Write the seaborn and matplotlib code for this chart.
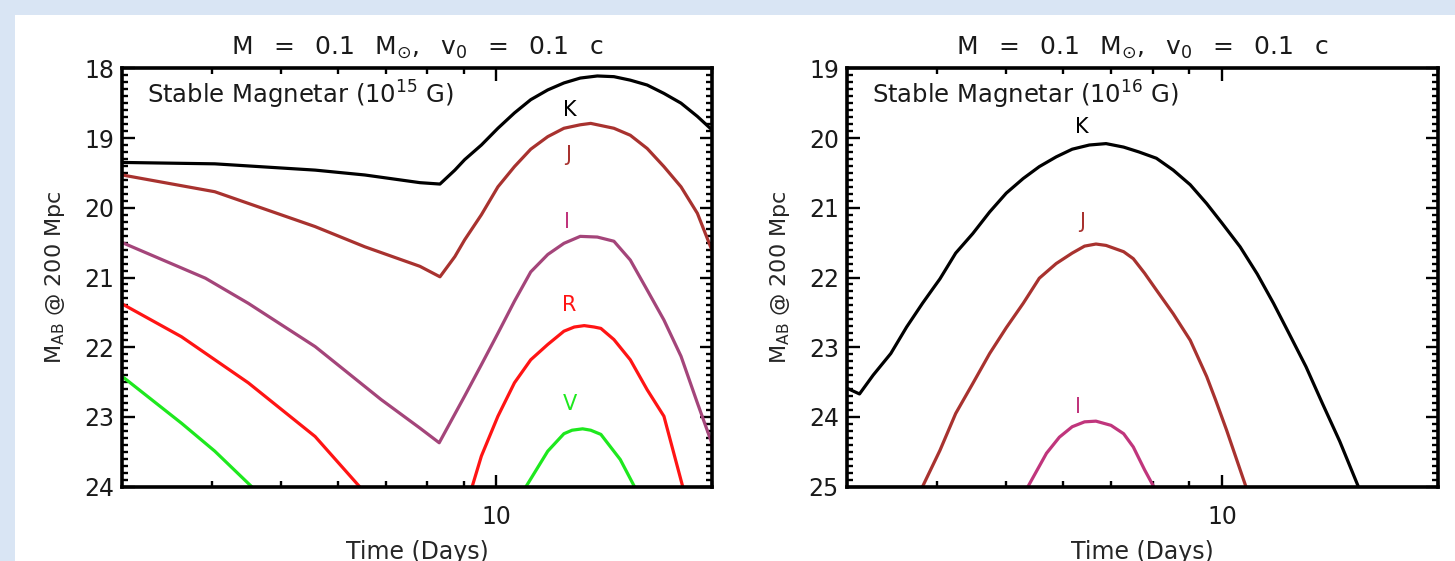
import matplotlib
matplotlib.use('Agg')
import matplotlib.pyplot as plt
import pandas as pd
import seaborn as sns
from matplotlib.ticker import FixedLocator, FixedFormatter, NullFormatter, MultipleLocator
from matplotlib.patches import Rectangle

# ---------------- data ----------------
# Left panel: Stable Magnetar (10^15 G)
k15_t = [3.0, 4.04, 5.58, 6.55, 7.82, 8.34, 8.75, 9.03, 9.53, 10.05, 10.6, 11.17, 11.8,
         12.43, 13.1, 13.84, 14.6, 15.39, 16.25, 17.15, 18.12, 19.1, 20.0]
k15_m = [19.35, 19.37, 19.46, 19.53, 19.64, 19.66, 19.46, 19.31, 19.10, 18.86, 18.64, 18.45, 18.31,
         18.21, 18.14, 18.11, 18.12, 18.17, 18.24, 18.36, 18.50, 18.69, 18.88]

j15_t = [3.0, 4.04, 5.58, 6.55, 7.82, 8.34, 8.75, 9.03, 9.53, 10.05, 10.6, 11.17, 11.8,
         12.43, 13.1, 13.55, 14.6, 15.39, 16.25, 17.15, 18.12, 19.1, 20.0]
j15_m = [19.53, 19.77, 20.27, 20.56, 20.84, 20.99, 20.70, 20.46, 20.10, 19.70, 19.41, 19.16, 18.98,
         18.86, 18.81, 18.79, 18.86, 18.96, 19.15, 19.41, 19.70, 20.08, 20.60]

i15_t = [3.0, 3.92, 4.50, 5.58, 6.90, 7.82, 8.32, 9.03, 9.53, 10.05, 10.6, 11.17, 11.8,
         12.43, 13.1, 13.84, 14.6, 15.39, 16.25, 17.15, 18.12, 19.1, 20.0]
i15_m = [20.50, 21.01, 21.37, 21.99, 22.75, 23.16, 23.37, 22.70, 22.25, 21.80, 21.34, 20.92, 20.67,
         20.51, 20.41, 20.42, 20.48, 20.75, 21.18, 21.61, 22.13, 22.80, 23.37]

r15a_t = [3.0, 3.63, 4.50, 5.58, 6.44]
r15a_m = [21.38, 21.85, 22.51, 23.28, 24.0]
r15b_t = [9.25, 9.53, 10.05, 10.6, 11.17, 11.8, 12.43, 12.85, 13.27, 13.7, 14.0, 14.6, 15.39,
          16.25, 17.15, 18.22]
r15b_m = [24.0, 23.56, 22.99, 22.51, 22.18, 21.96, 21.77, 21.71, 21.69, 21.71, 21.73, 21.89, 22.18,
          22.61, 22.99, 24.0]

v15a_t = [3.0, 3.63, 4.04, 4.55]
v15a_m = [22.42, 23.09, 23.49, 24.0]
v15b_t = [11.0, 11.8, 12.43, 12.76, 13.2, 13.55, 14.0, 14.9, 15.6]
v15b_m = [24.0, 23.49, 23.24, 23.19, 23.17, 23.19, 23.25, 23.61, 24.0]

# Right panel: Stable Magnetar (10^16 G)
k16_t = [3.0, 3.12, 3.26, 3.45, 3.63, 3.82, 3.95, 4.04, 4.25, 4.49, 4.74, 5.00, 5.28, 5.56,
         5.87, 6.18, 6.53, 6.89, 7.29, 7.66, 8.10, 8.55, 9.03, 9.52, 10.0, 10.6, 11.2, 11.8,
         12.4, 13.1, 13.8, 14.6, 15.5]
k16_m = [23.59, 23.67, 23.40, 23.09, 22.71, 22.37, 22.16, 22.02, 21.65, 21.37, 21.06, 20.79, 20.58,
         20.41, 20.27, 20.16, 20.10, 20.08, 20.13, 20.20, 20.29, 20.46, 20.67, 20.94, 21.22, 21.56,
         21.95, 22.37, 22.80, 23.28, 23.80, 24.35, 25.0]

j16_t = [3.82, 4.04, 4.25, 4.49, 4.74, 5.0, 5.28, 5.56, 5.87, 6.18, 6.43, 6.67, 6.89, 7.29,
         7.52, 7.80, 8.10, 8.55, 9.03, 9.52, 9.80, 10.15, 10.8]
j16_m = [25.0, 24.48, 23.95, 23.52, 23.09, 22.72, 22.37, 22.01, 21.80, 21.65, 21.55, 21.52, 21.54,
         21.63, 21.73, 21.94, 22.18, 22.52, 22.90, 23.42, 23.76, 24.19, 25.0]

i16_t = [5.36, 5.69, 5.93, 6.18, 6.43, 6.67, 7.0, 7.29, 7.52, 7.80, 8.03]
i16_m = [25.0, 24.52, 24.29, 24.14, 24.07, 24.06, 24.12, 24.24, 24.43, 24.76, 25.0]

x_major = [10]
x_major_labels = ['10']
x_minor = [4, 5, 6, 7, 8, 9, 20]

SP = '\u2002 '
title_text = ('M' + SP + '=' + SP + '0.1' + SP + r'M$_{\odot}$,' + SP + r'v$_0$' + SP + '='
              + SP + '0.1' + SP + 'c')
panel_labels = [r'Stable Magnetar (10$^{15}$ G)', r'Stable Magnetar (10$^{16}$ G)']

# ---------------- styling ----------------
C_K = '#000000'
C_J = '#a8322f'
C_I1 = '#a4457a'
C_I2 = '#c0357c'
C_R = '#ff1414'
C_V = '#1ee81e'

sns.set_theme(style='white')
plt.rcParams['font.family'] = ['DejaVu Sans', 'Noto Sans']
plt.rcParams['mathtext.fontset'] = 'dejavusans'
plt.rcParams['text.color'] = '#1a1a1a'

W, H = 1455, 561
fig = plt.figure(figsize=(W / 100, H / 100), dpi=100, facecolor='#d9e5f4')
fig.patches.append(Rectangle((15 / W, 0), 1, (H - 15) / H, transform=fig.transFigure,
                             facecolor='white', edgecolor='none', zorder=-10))

ax1 = fig.add_axes([122.3 / W, 74.3 / H, 589.4 / W, 418.4 / H])
ax2 = fig.add_axes([847.3 / W, 74.3 / H, 590.4 / W, 418.4 / H])


def draw(ax, t, m, color):
    df = pd.DataFrame({'t': t, 'm': m})
    sns.lineplot(data=df, x='t', y='m', ax=ax, color=color, lw=2.3, sort=False,
                 estimator=None, legend=False)


draw(ax1, k15_t, k15_m, C_K)
draw(ax1, j15_t, j15_m, C_J)
draw(ax1, i15_t, i15_m, C_I1)
draw(ax1, r15a_t, r15a_m, C_R)
draw(ax1, r15b_t, r15b_m, C_R)
draw(ax1, v15a_t, v15a_m, C_V)
draw(ax1, v15b_t, v15b_m, C_V)

draw(ax2, k16_t, k16_m, C_K)
draw(ax2, j16_t, j16_m, C_J)
draw(ax2, i16_t, i16_m, C_I2)

for ax, ylims, lab in [(ax1, (24, 18), panel_labels[0]), (ax2, (25, 19), panel_labels[1])]:
    ax.set_facecolor('white')
    ax.set_xscale('log')
    ax.set_xlim(3, 20)
    ax.set_ylim(*ylims)
    ax.xaxis.set_major_locator(FixedLocator(x_major))
    ax.xaxis.set_major_formatter(FixedFormatter(x_major_labels))
    ax.xaxis.set_minor_locator(FixedLocator(x_minor))
    ax.xaxis.set_minor_formatter(NullFormatter())
    ax.yaxis.set_major_locator(MultipleLocator(1))
    ax.yaxis.set_minor_locator(MultipleLocator(0.1))
    ax.tick_params(which='both', direction='in', top=True, right=True, bottom=True, left=True,
                   color='black', width=1.7, labelcolor='#1a1a1a')
    ax.tick_params(which='major', length=9)
    ax.tick_params(which='minor', length=4.5)
    ax.tick_params(axis='x', pad=13, labelsize=17)
    ax.tick_params(axis='y', pad=6, labelsize=17)
    for s in ax.spines.values():
        s.set_visible(True)
        s.set_color('black')
        s.set_linewidth(2.6)
    ax.set_xlabel('Time (Days)', fontsize=17, labelpad=8)
    ax.set_ylabel(r'M$_{\mathregular{AB}}$ @ 200 Mpc', fontsize=16, labelpad=12)
    ax.set_title(title_text, fontsize=18, pad=10)
    ax.text(0.042, 0.936, lab, transform=ax.transAxes, fontsize=17.5, ha='left', va='center')
    ax.grid(False)

# band labels
ax1.text(12.66, 18.6, 'K', color=C_K, fontsize=15, ha='center', va='center')
ax1.text(12.6, 19.24, 'J', color=C_J, fontsize=15, ha='center', va='center')
ax1.text(12.55, 20.2, 'I', color=C_I2, fontsize=15, ha='center', va='center')
ax1.text(12.66, 21.39, 'R', color=C_R, fontsize=15, ha='center', va='center')
ax1.text(12.66, 22.82, 'V', color=C_V, fontsize=15, ha='center', va='center')

ax2.text(6.38, 19.84, 'K', color=C_K, fontsize=15, ha='center', va='center')
ax2.text(6.38, 21.2, 'J', color=C_J, fontsize=15, ha='center', va='center')
ax2.text(6.29, 23.86, 'I', color=C_I2, fontsize=15, ha='center', va='center')

fig.savefig('out.png', dpi=100, facecolor=fig.get_facecolor())
